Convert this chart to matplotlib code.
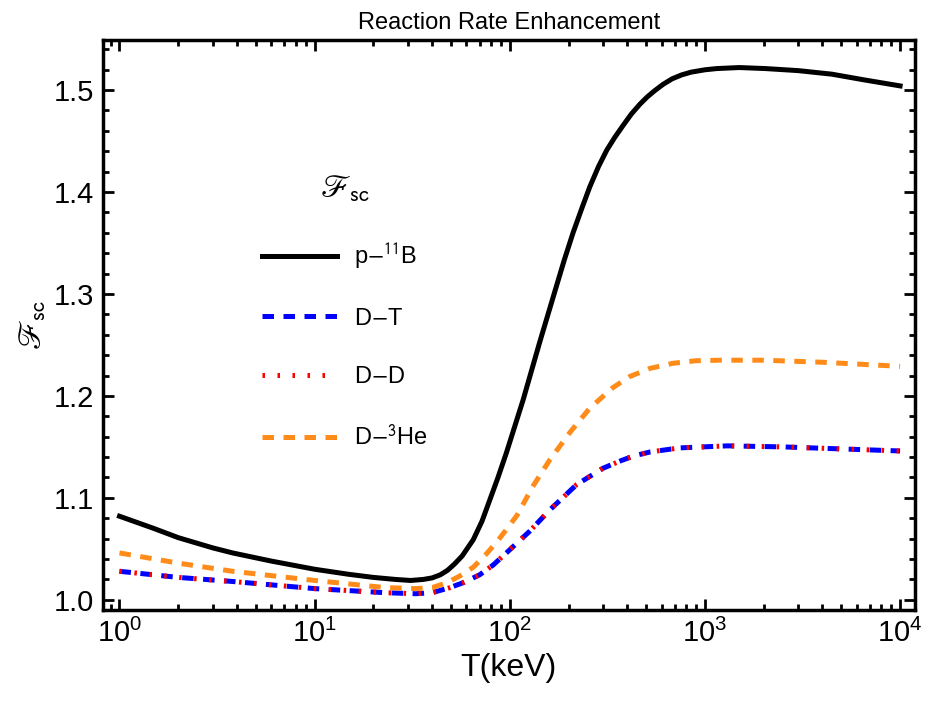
import matplotlib
matplotlib.use("Agg")
import matplotlib.pyplot as plt
from matplotlib.ticker import LogLocator, MultipleLocator, FormatStrFormatter

plt.rcParams['font.family'] = ['Liberation Sans', 'DejaVu Sans']
plt.rcParams['mathtext.fontset'] = 'stixsans'

# p-11B
t_pb = [1, 1.5, 2, 3, 3.8, 6, 10, 15, 20, 26, 31, 36, 40, 44, 48, 52, 57, 65, 72,
        79, 87, 96, 117, 142, 173, 190, 211, 234, 257, 285, 314, 345, 380, 420, 464,
        505, 550, 610, 680, 760, 850, 1000, 1150, 1500, 2040, 3000, 4470, 6500, 10000]
f_pb = [1.082, 1.070, 1.061, 1.051, 1.046, 1.038, 1.030, 1.025, 1.022, 1.0200,
        1.019, 1.0200, 1.0215, 1.0245, 1.029, 1.035, 1.043, 1.059, 1.077, 1.098,
        1.120, 1.144, 1.196, 1.252, 1.307, 1.333, 1.360, 1.384, 1.405, 1.425,
        1.441, 1.4535, 1.465, 1.4765, 1.486, 1.493, 1.499, 1.5055, 1.511, 1.5148,
        1.5175, 1.5198, 1.521, 1.522, 1.521, 1.519, 1.5155, 1.510, 1.504]

# D-T
t_dt = [1, 2, 3.8, 10, 23, 33, 40, 49, 58, 70, 82, 96, 126, 160, 220, 300, 366,
        430, 523, 740, 1300, 2500, 5000, 10000]
f_dt = [1.028, 1.022, 1.018, 1.011, 1.007, 1.006, 1.007, 1.0118, 1.017, 1.0245,
        1.034, 1.046, 1.067, 1.088, 1.113, 1.129, 1.136, 1.141, 1.145, 1.149,
        1.151, 1.150, 1.148, 1.146]

# D-D
t_dd = [1, 2, 3.8, 10, 23, 33, 40, 49, 58, 70, 82, 96, 126, 160, 220, 300, 366,
        430, 523, 740, 1300, 2500, 5000, 10000]
f_dd = [1.028, 1.022, 1.018, 1.011, 1.007, 1.006, 1.007, 1.0118, 1.017, 1.0245,
        1.034, 1.046, 1.067, 1.088, 1.113, 1.129, 1.136, 1.141, 1.145, 1.149,
        1.151, 1.150, 1.148, 1.146]

# D-3He
t_dhe = [1, 2, 3.8, 10, 23, 33, 40, 47.5, 55, 65, 75, 86, 97, 109, 131, 160, 203,
         257, 337, 412, 523, 686, 900, 1200, 2000, 4000, 10000]
f_dhe = [1.046, 1.036, 1.028, 1.019, 1.012, 1.011, 1.012, 1.0167, 1.023, 1.032,
         1.044, 1.057, 1.070, 1.083, 1.111, 1.137, 1.164, 1.188, 1.208, 1.219,
         1.227, 1.232, 1.2345, 1.235, 1.235, 1.233, 1.229]

fig = plt.figure(figsize=(9.25, 7.02), dpi=100)
ax = fig.add_axes([0.111, 0.131, 0.878, 0.812])

lw = 3.6
ax.plot(t_pb, f_pb, color='black', lw=lw, label=r'p$-^{11}$B')
ax.plot(t_dt, f_dt, color='#0000FF', lw=lw, dashes=(2.3, 1.9), label='D$-$T')
ax.plot(t_dd, f_dd, color='#FF0000', lw=lw, dashes=(0.5, 2.5),
        dash_capstyle='butt', label='D$-$D')
ax.plot(t_dhe, f_dhe, color='#FF8C1A', lw=lw, dashes=(2.3, 1.9), label=r'D$-^{3}$He')

ax.set_xscale('log')
ax.set_xlim(0.82, 1.19e4)
ax.set_ylim(0.99, 1.549)
ax.xaxis.set_major_locator(LogLocator(base=10, numticks=10))
ax.xaxis.set_minor_locator(LogLocator(base=10, subs=range(2, 10), numticks=20))
ax.yaxis.set_major_locator(MultipleLocator(0.1))
ax.yaxis.set_minor_locator(MultipleLocator(0.02))
ax.yaxis.set_major_formatter(FormatStrFormatter('%.1f'))

ax.tick_params(which='both', direction='in', top=True, right=True, width=2)
ax.tick_params(which='major', length=8, labelsize=21, pad=6)
ax.tick_params(which='minor', length=4)
for s in ax.spines.values():
    s.set_linewidth(2.5)

ax.set_title('Reaction Rate Enhancement', fontsize=17, pad=8)
ax.set_xlabel('T(keV)', fontsize=23)
ax.set_ylabel(r'$\mathscr{F}_{\mathrm{sc}}$', fontsize=23)

leg = ax.legend(loc='upper left', bbox_to_anchor=(0.196, 0.764), frameon=False,
                fontsize=17, title=r'$\mathscr{F}_{\mathrm{sc}}$', title_fontsize=23,
                handlelength=3.2, labelspacing=1.55, handletextpad=0.72,
                borderpad=0, borderaxespad=0)

fig.savefig('out.png', dpi=100)
